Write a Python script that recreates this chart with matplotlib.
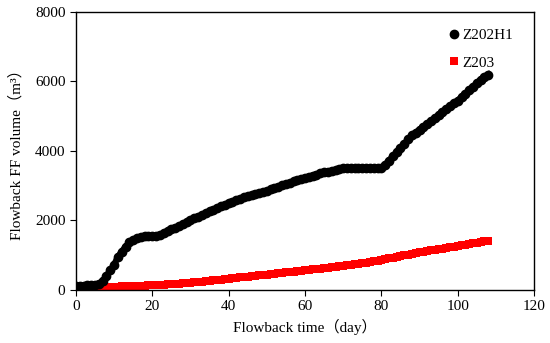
import matplotlib
matplotlib.use("Agg")
import matplotlib.pyplot as plt

# Flowback time (day)
days = list(range(109))

# Cumulative flowback volume (m3)
z202h1 = [
    100, 110, 120, 130, 140, 150, 170, 260, 400, 560,
    720, 950, 1100, 1240, 1370, 1440, 1490, 1530, 1560, 1560,
    1560, 1560, 1580, 1640, 1700, 1740, 1790, 1840, 1890, 1950,
    2010, 2060, 2110, 2160, 2210, 2260, 2300, 2350, 2400, 2450,
    2500, 2540, 2580, 2620, 2660, 2700, 2730, 2760, 2790, 2820,
    2850, 2890, 2930, 2970, 3010, 3040, 3080, 3120, 3160, 3190,
    3230, 3260, 3290, 3320, 3350, 3380, 3400, 3430, 3450, 3480,
    3500, 3510, 3510, 3510, 3510, 3510, 3510, 3510, 3510, 3510,
    3510, 3600, 3720, 3840, 3960, 4080, 4200, 4330, 4450, 4530,
    4610, 4690, 4770, 4850, 4940, 5030, 5110, 5200, 5280, 5370,
    5450, 5550, 5650, 5750, 5850, 5950, 6050, 6130, 6200,
]
z203 = [
    30, 40, 50, 55, 60, 65, 70, 75, 80, 85,
    90, 95, 100, 103, 106, 110, 113, 116, 120, 125,
    130, 135, 140, 148, 156, 164, 172, 180, 190, 200,
    210, 220, 230, 240, 250, 260, 272, 284, 296, 308,
    320, 332, 344, 356, 368, 380, 392, 404, 416, 428,
    440, 452, 464, 476, 488, 500, 512, 524, 536, 548,
    560, 573, 586, 599, 612, 625, 638, 651, 664, 677,
    690, 705, 720, 735, 750, 765, 782, 800, 820, 840,
    860, 882, 904, 926, 948, 970, 992, 1014, 1036, 1058,
    1080, 1098, 1116, 1134, 1152, 1170, 1188, 1206, 1224, 1242,
    1260, 1280, 1300, 1320, 1340, 1360, 1380, 1395, 1410,
]

plt.rcParams['font.family'] = ['Liberation Serif', 'Noto Sans CJK SC']
plt.rcParams['font.size'] = 11

fig = plt.figure(figsize=(5.5, 3.43), dpi=100)
ax = fig.add_axes([0.138, 0.155, 0.833, 0.81])

# thick line behind the markers so the dense series reads as a band
ax.plot(days, z202h1, '-', color='black', linewidth=4.5, zorder=3)
ax.plot(days, z202h1, 'o', color='black', markersize=6, label='Z202H1', zorder=3)
ax.plot(days, z203, '-', color='#ff0000', linewidth=5, solid_capstyle='butt', zorder=2)
ax.plot(days, z203, 's', color='#ff0000', markersize=5.5, markeredgewidth=0, label='Z203', zorder=2)

ax.set_xlim(0, 120)
ax.set_ylim(0, 8000)
ax.set_xticks([0, 20, 40, 60, 80, 100, 120])
ax.set_yticks([0, 2000, 4000, 6000, 8000])
ax.tick_params(direction='out', length=4, top=False, right=False, labelsize=11)

for s in ax.spines.values():
    s.set_linewidth(1.0)

ax.set_xlabel('Flowback time（day）', fontsize=11, labelpad=4)
ax.set_ylabel('Flowback FF volume（m³）', fontsize=11, labelpad=8)

ax.legend(loc='upper right', bbox_to_anchor=(0.985, 0.99), frameon=False, fontsize=11,
          handletextpad=0.1, labelspacing=0.9, borderaxespad=0.5, handlelength=1.0)

fig.savefig('out.png', dpi=100)
